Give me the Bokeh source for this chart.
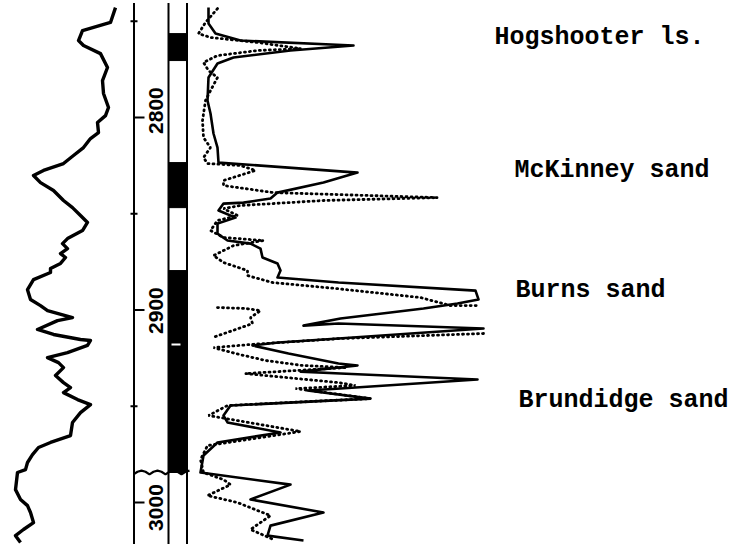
from bokeh.plotting import figure
from bokeh.layouts import row
from bokeh.models import Range1d
from bokeh.core.properties import value
from bokeh.embed import file_html
from bokeh.resources import INLINE
import numpy as np

NaN = np.nan

# ---- left track curve (SP-like, track units) ----
left_val = [115,110,82,78,83,100,107,102,103,108,105,97,98,90,83,73,63,43,33,40,53,63,72,80,87,82,67,62,67,60,65,60,50,
            50,33,27,30,40,47,72,57,37,53,80,90,87,67,47,58,63,55,63,70,63,77,90,80,72,70,50,38,32,27,25,17,15,20,27,30,33,23,15,20]
left_depth = [2742.9,2750.6,2754.8,2760.0,2762.6,2766.8,2774.0,2780.8,2787.5,2794.8,2799.0,2802.6,2807.8,2810.9,2815.6,2819.7,
              2823.9,2827.5,2830.1,2833.8,2837.9,2843.1,2846.8,2850.9,2854.5,2858.7,2862.9,2865.5,2868.1,2870.7,2872.7,2875.8,2878.4,
              2880.5,2884.2,2889.4,2894.5,2897.7,2900.3,2903.9,2905.5,2910.1,2912.7,2915.3,2915.8,2918.4,2922.1,2924.7,2927.3,2929.9,
              2934.0,2937.7,2940.3,2942.9,2946.5,2949.1,2953.3,2958.4,2965.2,2968.8,2971.4,2975.1,2979.2,2982.9,2984.4,2993.3,2998.4,
              3001.6,3005.2,3010.4,3014.0,3017.2,3020.8]

# ---- right track: solid curve ----
solid_val = [208,208,215,240,353,290,233,217,208,207,210,213,217,218,357,323,277,270,243,223,218,235,217,217,227,250,260,262,277,280,
             277,338,475,478,457,423,390,340,303,338,483,338,278,252,288,338,357,300,340,477,340,307,370,230,223,227,280,217,203,200,
             290,250,323,270,267,303]
solid_depth = [2742.9,2751.2,2756.4,2760.0,2762.6,2765.2,2768.8,2771.9,2779.2,2791.2,2797.9,2808.3,2815.6,2823.4,2828.6,2833.8,
               2839.0,2842.1,2844.2,2844.7,2848.3,2852.0,2855.1,2860.3,2863.9,2865.5,2868.1,2872.7,2875.8,2879.5,2883.1,2885.7,
               2889.9,2894.5,2896.6,2899.2,2901.3,2904.4,2908.1,2907.0,2909.6,2914.8,2916.9,2918.4,2922.6,2927.8,2928.8,2932.0,
               2933.0,2936.1,2940.8,2941.8,2946.0,2949.6,2954.8,2958.4,2963.6,2968.8,2975.6,2984.4,2990.7,2998.4,3005.2,3012.0,
               3017.2,3019.7]

# ---- right track: dotted curve ----
dot_val = [217,205,198,210,257,300,257,217,203,208,217,210,205,202,203,210,203,207,240,255,223,223,273,437,323,240,223,237,217,210,
           223,263,233,213,223,247,247,272,335,420,450,477,NaN,217,245,260,250,252,238,212,NaN,483,340,250,213,235,265,302,345,245,
           338,355,295,370,227,208,300,207,200,203,223,230,207,237,270,250,273]
dot_depth = [2743.4,2750.6,2756.4,2758.4,2761.0,2764.2,2765.2,2767.8,2771.4,2775.6,2779.2,2786.0,2791.2,2801.6,2810.4,2815.6,2820.8,
             2823.9,2824.9,2827.5,2832.7,2835.3,2839.0,2841.6,2843.1,2845.7,2847.3,2850.9,2853.5,2858.7,2862.3,2863.9,2866.5,2871.7,
             2875.3,2879.5,2882.1,2885.7,2888.8,2893.5,2897.7,2897.7,NaN,2898.7,2899.2,2900.3,2903.9,2907.0,2909.6,2914.3,NaN,2912.2,
             2914.8,2917.9,2919.5,2922.6,2926.2,2928.8,2929.9,2933.0,2937.7,2939.2,2940.8,2946.0,2949.6,2954.8,2963.1,2970.4,2977.7,
             2984.4,2988.1,2990.7,2996.4,3000.0,3006.8,3014.0,3019.2]

# ---- lithology (black intervals) ----
lith_top = [2756.4, 2823.4, 2879.5]
lith_base = [2770.4, 2846.8, 2984.4]

# ---- depth ticks and labels ----
major_ticks = [2800, 2900, 3000]
minor_ticks = [2750, 2850, 2950]
depth_labels = ["2800", "2900", "3000"]
depth_label_pos = [2796.4, 2900.3, 3002.6]

# ---- formation names ----
formations = ["Hogshooter ls.", "McKinney sand", "Burns sand", "Brundidge sand"]
formation_depth = [2758.4, 2827.5, 2889.9, 2947.0]
formation_x = [494, 514, 515, 518]

# ---- break symbol ----
break_x = [133,137,141,145,149,153,157,161,165,169,173,177,181,185,189]
break_d = [2985.4,2984.0,2983.4,2984.0,2985.4,2984.0,2983.4,2984.0,2985.4,2984.0,2983.4,2984.0,2985.4,2984.0,2983.4]

H = 544
yr = Range1d(3021.8, 2739.2)

def mk(w, x0, x1):
    f = figure(width=w, height=H, x_range=Range1d(x0, x1), y_range=yr,
               output_backend="svg", toolbar_location=None,
               x_axis_type=None, y_axis_type=None, min_border=0,
               outline_line_color=None, background_fill_color="white",
               border_fill_color="white")
    f.grid.visible = False
    return f

# left track
f1 = mk(130, 0, 130)
f1.line(left_val, left_depth, line_color="black", line_width=3.4, line_join="round")

# depth column
f2 = mk(62, 130, 192)
f2.quad(left=168, right=186.5, top=lith_top, bottom=lith_base, fill_color="black", line_color="black")
f2.segment(x0=[133.5, 168, 186.5], y0=[2740.5]*3, x1=[133.5, 168, 186.5], y1=[3022]*3,
           line_color="black", line_width=2)
f2.segment(x0=133.5, y0=major_ticks, x1=144, y1=major_ticks, line_color="black", line_width=2)
f2.segment(x0=129, y0=minor_ticks, x1=137, y1=minor_ticks, line_color="black", line_width=2)
f2.segment(x0=[171], y0=[2917.9], x1=[180], y1=[2917.9], line_color="white", line_width=2)
f2.line(break_x, break_d, line_color="black", line_width=2.2)
f2.text(x=[155]*3, y=depth_label_pos, text=depth_labels, angle=np.pi/2,
        text_font=value("Liberation Sans"), text_font_style="bold", text_font_size="21px",
        text_align="center", text_baseline="middle", text_color="black")

# right track + labels
f3 = mk(545, 192, 737)
f3.line(dot_val, dot_depth, line_color="black", line_width=2.8, line_dash="1 4", line_cap="round")
f3.line(solid_val, solid_depth, line_color="black", line_width=2.6, line_join="round")
f3.text(x=formation_x, y=formation_depth, text=formations,
        text_font=value("Liberation Mono"), text_font_style="bold", text_font_size="25px",
        text_align="left", text_baseline="middle", text_color="black")

layout = row(f1, f2, f3)
open("out.html", "w").write(file_html(layout, INLINE))
